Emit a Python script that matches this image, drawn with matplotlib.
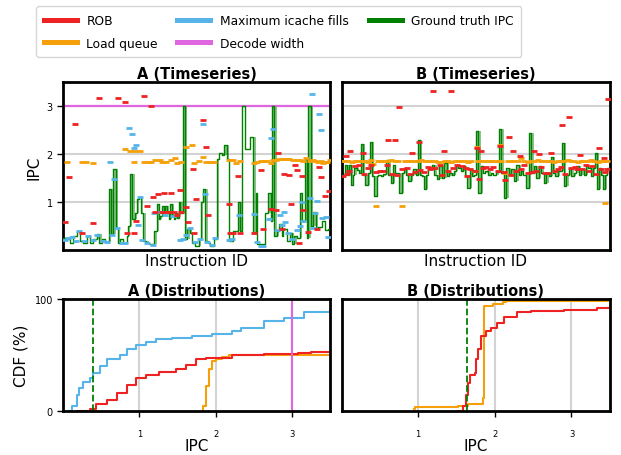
import numpy as np
import matplotlib
matplotlib.use("Agg")
import matplotlib.pyplot as plt
from matplotlib.lines import Line2D

# colours
C_ROB = "#ee2222"
C_LQ = "#f5a00a"
C_IC = "#56b4e9"
C_DEC = "#e066e0"
C_GT = "#008000"

# ---- A timeseries ----
gt_a_x = [0, 10, 20, 30, 40, 50, 60, 70, 80, 90, 100, 108, 115, 125, 137, 143, 150, 157, 165, 170,
          180, 190, 195, 200, 207, 215, 222, 228, 233, 240, 248, 256, 273, 281, 286, 291, 296, 301,
          306, 311, 316, 321, 326, 331, 336, 341, 346, 351, 358, 364, 371, 379, 386, 396, 406, 413,
          419, 426, 433, 441, 451, 461, 466, 476, 483, 491, 497, 509, 523, 529, 536, 545, 560, 571,
          578, 583, 606, 616, 623, 628, 634, 641, 649, 656, 661, 671, 681, 688, 693, 701, 711, 716,
          726, 731, 736, 743, 751, 759, 766, 776, 786, 796, 805]
gt_a_y = [0.26, 0.23, 0.16, 0.30, 0.40, 0.19, 0.16, 0.30, 0.16, 0.23, 0.33, 0.16, 0.23, 0.18, 1.27,
          0.33, 1.69, 0.46, 0.16, 0.23, 0.16, 0.30, 0.51, 1.60, 0.65, 0.78, 1.06, 1.12, 0.78, 0.19,
          0.16, 0.13, 0.40, 0.96, 0.65, 0.71, 0.92, 0.78, 0.92, 0.78, 0.65, 0.96, 0.74, 0.65, 0.78,
          0.68, 1.00, 0.78, 3.00, 0.23, 0.44, 0.37, 0.16, 0.09, 0.23, 1.00, 1.27, 0.19, 0.16, 0.09,
          0.23, 1.90, 2.02, 1.98, 2.20, 1.90, 0.19, 0.40, 1.00, 0.40, 3.00, 2.12, 2.37, 0.35, 1.20,
          0.13, 0.78, 1.20, 0.60, 3.00, 0.30, 0.40, 0.55, 0.30, 0.45, 0.20, 0.35, 0.13, 0.30, 0.25,
          1.20, 0.60, 1.90, 0.25, 3.00, 0.50, 0.80, 0.45, 0.48, 0.60, 0.42, 0.45]

rob_a_x = [4, 17, 36, 55, 88, 108, 165, 185, 192, 212, 218, 243, 250, 262, 270, 276, 283, 296, 303,
           309, 321, 323, 333, 341, 349, 354, 368, 373, 388, 393, 399, 418, 429, 433, 496, 499, 509,
           523, 529, 573, 593, 599, 624, 639, 644, 658, 664, 678, 683, 696, 703, 709, 716, 721, 734,
           761, 768, 774, 786, 797]
rob_a_y = [0.58, 1.53, 2.63, 0.36, 0.56, 3.17, 3.17, 3.10, 0.36, 0.35, 0.62, 3.21, 0.92, 3.00, 1.12,
           0.79, 1.18, 0.80, 1.19, 0.79, 0.80, 1.19, 0.80, 0.74, 1.25, 0.79, 0.90, 0.59, 1.70, 0.35,
           1.06, 2.71, 2.15, 0.74, 0.97, 0.35, 0.35, 1.55, 0.36, 0.37, 1.67, 0.44, 0.86, 0.84, 2.02,
           0.45, 1.60, 1.58, 0.97, 1.77, 1.67, 0.16, 1.55, 0.85, 0.39, 0.44, 1.74, 1.52, 1.13, 1.24]

ic_a_x = [5, 15, 25, 37, 47, 62, 75, 90, 102, 118, 130, 140, 145, 153, 160, 175, 185, 198, 205,
          212, 218, 223, 230, 235, 252, 268, 273, 289, 306, 329, 349, 358, 369, 379, 394, 411, 418,
          424, 431, 446, 456, 496, 506, 526, 573, 581, 593, 601, 619, 624, 631, 641, 651, 658, 664,
          666, 674, 688, 701, 711, 716, 721, 741, 748, 751, 756, 761, 768, 774, 776, 788, 796]
ic_a_y = [0.22, 0.26, 0.28, 0.19, 0.40, 0.19, 0.29, 0.22, 0.32, 0.19, 0.18, 1.85, 0.31, 1.49, 0.46,
          0.16, 0.16, 2.56, 2.43, 2.14, 2.19, 0.52, 1.12, 0.21, 0.16, 0.11, 0.78, 0.79, 0.73, 0.72,
          0.21, 0.24, 0.31, 0.46, 0.18, 0.23, 2.63, 1.18, 0.18, 0.11, 0.25, 0.21, 0.24, 0.74, 0.76,
          0.17, 0.09, 0.09, 0.65, 2.34, 2.52, 0.42, 0.73, 0.52, 0.80, 0.59, 0.35, 0.23, 0.42, 0.50,
          1.00, 0.60, 1.10, 3.25, 0.47, 0.78, 1.02, 2.85, 2.50, 0.68, 0.69, 0.27]

lq_a_x = [11, 56, 69, 89, 186, 201, 213, 216, 231, 243, 253, 263, 274, 289, 296, 309, 323, 336, 341,
          353, 368, 386, 393, 406, 419, 429, 441, 451, 496, 509, 519, 529, 573, 583, 593, 603, 613,
          624, 631, 639, 649, 656, 664, 672, 679, 689, 701, 711, 721, 729, 741, 749, 756, 766, 773,
          781, 788, 793, 801]
lq_a_y = [1.85, 1.85, 1.85, 1.83, 2.12, 2.07, 1.85, 2.07, 2.07, 1.85, 1.85, 1.85, 1.89, 1.89, 1.85,
          1.85, 1.89, 1.92, 1.83, 1.85, 2.16, 2.19, 1.83, 1.87, 1.94, 1.85, 1.85, 1.85, 1.89, 1.89,
          1.83, 1.87, 1.83, 1.85, 1.86, 1.86, 1.87, 1.83, 1.88, 1.88, 1.90, 1.91, 1.91, 1.90, 1.91,
          1.89, 1.88, 1.89, 1.87, 1.92, 1.86, 1.88, 1.87, 1.84, 1.86, 1.83, 1.85, 1.84, 1.89]

decode_a = 3.0

# ---- B timeseries ----
gt_b_x = [0, 11, 16, 21, 27, 33, 38, 46, 53, 59, 66, 71, 79, 86, 93, 99, 106, 111, 119, 126, 133,
          141, 148, 154, 161, 174, 181, 188, 195, 201, 209, 216, 223, 229, 235, 241, 249, 255, 261,
          271, 278, 286, 293, 301, 309, 316, 323, 331, 338, 345, 351, 358, 365, 371, 378, 385, 391,
          398, 404, 411, 418, 424, 433, 441, 449, 456, 466, 474, 481, 489, 496, 503, 511, 519, 526,
          533, 541, 546, 556, 564, 571, 578, 586, 593, 601, 608, 615, 623, 629, 636, 643, 651, 658,
          664, 669, 676, 683, 691, 699, 706, 713, 721, 728, 735, 741, 749, 756, 761, 767, 773, 781,
          787, 793, 799, 810]
gt_b_y = [1.58, 1.78, 1.58, 1.78, 1.36, 1.58, 1.72, 1.68, 1.62, 2.21, 1.58, 1.37, 1.61, 2.26, 1.55,
          1.13, 1.55, 1.58, 1.55, 1.60, 1.89, 1.58, 1.41, 1.78, 1.62, 1.19, 1.62, 1.72, 1.58, 1.44,
          1.58, 1.69, 1.58, 2.29, 1.58, 1.55, 1.27, 1.58, 1.69, 1.78, 1.58, 1.49, 1.75, 1.51, 1.83,
          1.55, 1.62, 1.58, 1.65, 1.78, 1.72, 1.65, 1.75, 1.55, 1.30, 1.69, 1.55, 1.58, 2.49, 1.20,
          1.75, 1.62, 1.65, 1.58, 1.62, 1.58, 1.63, 2.52, 1.62, 1.10, 1.72, 1.58, 1.69, 1.44, 1.78,
          1.58, 1.65, 1.58, 1.30, 2.44, 1.62, 1.75, 1.51, 1.75, 1.62, 1.40, 1.62, 1.55, 1.95, 1.62,
          1.55, 1.65, 1.65, 2.23, 1.35, 1.58, 1.72, 1.55, 1.62, 1.75, 1.58, 1.69, 1.58, 1.75, 1.72,
          1.55, 1.72, 2.02, 1.27, 1.72, 1.58, 1.27, 1.58, 1.72]

rob_b_x = [4, 13, 17, 21, 26, 39, 51, 66, 69, 79, 89, 103, 116, 126, 136, 141, 153, 161, 167, 174,
           183, 197, 206, 213, 221, 233, 236, 249, 259, 266, 269, 276, 281, 296, 303, 309, 321, 329,
           336, 346, 361, 373, 376, 386, 401, 406, 413, 419, 426, 436, 446, 456, 471, 476, 489, 491,
           503, 509, 516, 526, 536, 541, 549, 561, 573, 579, 586, 593, 599, 611, 621, 631, 641, 651,
           659, 664, 673, 683, 691, 703, 709, 716, 723, 736, 744, 753, 766, 774, 779, 788, 793, 799,
           803]
rob_b_y = [1.55, 1.96, 1.60, 1.65, 2.07, 1.75, 1.77, 2.02, 1.60, 1.72, 1.78, 1.64, 1.65, 1.65, 1.78,
           2.30, 1.60, 2.30, 1.58, 2.99, 1.70, 1.72, 1.60, 2.02, 1.63, 2.26, 1.68, 1.63, 1.74, 1.70,
           1.72, 3.32, 1.71, 1.78, 1.58, 2.07, 1.65, 3.32, 1.72, 1.78, 1.75, 1.72, 1.55, 1.70, 1.65,
           2.14, 1.49, 2.07, 1.72, 1.73, 1.70, 1.74, 1.65, 2.18, 1.63, 1.47, 2.37, 1.58, 2.07, 1.65,
           1.96, 1.70, 1.78, 1.62, 1.63, 2.07, 1.65, 2.00, 1.74, 1.62, 1.62, 2.02, 1.65, 1.70, 1.74,
           2.61, 1.60, 2.77, 1.72, 1.74, 1.69, 1.98, 1.70, 1.78, 1.65, 1.76, 1.60, 2.14, 1.69, 1.93,
           1.63, 1.70, 3.15]

lq_b_x = [0, 10, 20, 30, 40, 50, 60, 70, 80, 89, 95, 103, 110, 120, 130, 140, 150, 160, 170, 181,
          190, 200, 210, 220, 230, 240, 250, 260, 270, 280, 290, 300, 310, 320, 330, 340, 350, 360,
          370, 380, 390, 401, 406, 410, 420, 430, 440, 450, 460, 470, 476, 480, 491, 500, 510, 520,
          530, 540, 550, 560, 570, 580, 590, 600, 610, 620, 630, 640, 650, 660, 670, 680, 690, 700,
          710, 720, 730, 740, 750, 760, 770, 780, 790, 793, 800]
lq_b_y = [1.86, 1.86, 1.86, 1.85, 1.86, 1.86, 1.86, 1.86, 1.84, 1.89, 1.80, 0.92, 1.86, 1.87, 1.86,
          1.86, 1.88, 1.86, 1.86, 0.92, 1.86, 1.86, 1.86, 1.86, 1.86, 1.89, 1.86, 1.87, 1.86, 1.86,
          1.85, 1.85, 1.86, 1.86, 1.84, 1.86, 1.86, 1.86, 1.86, 1.85, 1.86, 1.65, 2.16, 1.86, 1.86,
          1.86, 1.86, 1.86, 1.86, 1.86, 2.19, 1.86, 1.62, 1.86, 1.86, 1.86, 1.86, 1.92, 1.86, 1.84,
          1.86, 1.86, 1.89, 1.86, 1.86, 1.86, 1.86, 1.84, 1.86, 1.86, 1.86, 1.88, 1.86, 1.86, 1.85,
          1.86, 1.86, 1.86, 1.89, 1.86, 1.84, 1.86, 1.86, 0.98, 1.86]

# ---- CDFs ----
cdf_a_ic_x = [0.07, 0.11, 0.18, 0.21, 0.26, 0.35, 0.39, 0.48, 0.57, 0.74, 0.83, 0.96, 1.09, 1.22,
              1.43, 1.69, 1.95, 2.21, 2.34, 2.64, 2.90, 3.16, 3.50]
cdf_a_ic_y = [0, 4, 14, 20, 26, 29, 34, 40, 46, 50, 55, 59, 62, 64, 65, 67, 69, 71, 74, 80, 83, 88, 90]
cdf_a_rob_x = [0.18, 0.35, 0.43, 0.57, 0.70, 0.83, 0.96, 1.09, 1.26, 1.48, 1.61, 1.74, 1.87, 2.00,
               2.21, 2.64, 3.08, 3.25, 3.50]
cdf_a_rob_y = [0, 1.5, 6, 10, 16, 23, 29, 32, 35, 37, 41, 46, 47, 47, 49.5, 50.5, 51.4, 52.6, 52.6]
cdf_a_lq_x = [1.82, 1.84, 1.87, 1.91, 1.95, 2.00, 2.08, 2.17, 3.50]
cdf_a_lq_y = [0, 4, 22, 37, 44.5, 46, 48, 49.5, 49.5]
gt_mean_a = 0.385

cdf_b_lq_x = [0.94, 0.96, 1.52, 1.65, 1.82, 1.84, 1.86, 1.98, 2.10, 2.14, 3.50]
cdf_b_lq_y = [1.5, 3.3, 3.9, 6, 6, 11, 94, 95.5, 97, 98, 98]
cdf_b_rob_x = [1.52, 1.59, 1.63, 1.65, 1.68, 1.74, 1.76, 1.78, 1.82, 1.88, 1.95, 2.03, 2.12, 2.29,
               2.47, 2.90, 3.33, 3.50]
cdf_b_rob_y = [0, 4.5, 14, 25, 32, 34, 46, 55, 67, 71, 74, 79, 83.5, 88, 89, 90.4, 91.6, 92.5]
gt_mean_b = 1.636

fig = plt.figure(figsize=(6.21, 4.56), dpi=100)
ax_ta = fig.add_axes([0.102, 0.449, 0.429, 0.368])
ax_tb = fig.add_axes([0.550, 0.449, 0.432, 0.368])
ax_ba = fig.add_axes([0.102, 0.097, 0.429, 0.245])
ax_bb = fig.add_axes([0.550, 0.097, 0.432, 0.245])

mk = dict(marker="_", linestyle="none", markersize=4, markeredgewidth=2, zorder=4)


def draw_ts(ax, gx, gy):
    # thin step line; short segments (spikes) get a light fill against the previous level
    n = min(len(gx) - 1, len(gy))
    xs = gx[:n + 1]
    ys = gy[:n] + [gy[n - 1]]
    ax.step(xs, ys, where="post", color=C_GT, lw=1.0, zorder=3)
    for i in range(1, n):
        x0, x1 = xs[i], xs[i + 1]
        if x1 - x0 <= 8:
            ax.fill_between([x0, x1], ys[i - 1], ys[i], color=C_GT, alpha=0.45, lw=0, zorder=2)


draw_ts(ax_ta, gt_a_x, gt_a_y)
ax_ta.axhline(decode_a, color=C_DEC, lw=1.6, zorder=2)
ax_ta.plot(lq_a_x, lq_a_y, color=C_LQ, **mk)
ax_ta.plot(ic_a_x, ic_a_y, color=C_IC, **mk)
ax_ta.plot(rob_a_x, rob_a_y, color=C_ROB, **mk)
ax_ta.set_xlim(0, 800)

draw_ts(ax_tb, gt_b_x, gt_b_y)
ax_tb.plot(lq_b_x, lq_b_y, color=C_LQ, **mk)
ax_tb.plot(rob_b_x, rob_b_y, color=C_ROB, **mk)
ax_tb.set_xlim(0, 807)

for ax, name in [(ax_ta, "A"), (ax_tb, "B")]:
    ax.set_ylim(0, 3.5)
    ax.set_yticks([1, 2, 3])
    ax.set_xticks([])
    ax.grid(axis="y", color="lightgray", lw=1.5, zorder=0)
    ax.set_axisbelow(True)
    ax.set_title(f"{name} (Timeseries)", fontsize=10.5, fontweight="bold", pad=3)
    ax.set_xlabel("Instruction ID", fontsize=11, labelpad=2)
    ax.tick_params(axis="y", labelsize=7, length=4, width=1)
ax_ta.set_ylabel("IPC", fontsize=11)
ax_tb.tick_params(axis="y", left=False, labelleft=False)

ax_ba.plot(cdf_a_ic_x, cdf_a_ic_y, color=C_IC, lw=1.5, drawstyle="steps-post")
ax_ba.plot(cdf_a_lq_x, cdf_a_lq_y, color=C_LQ, lw=1.5, drawstyle="steps-post")
ax_ba.plot(cdf_a_rob_x, cdf_a_rob_y, color=C_ROB, lw=1.5, drawstyle="steps-post")
ax_ba.axvline(gt_mean_a, color=C_GT, ls="--", lw=1.3)
ax_ba.axvline(decode_a, color=C_DEC, lw=1.5)

ax_bb.plot(cdf_b_lq_x, cdf_b_lq_y, color=C_LQ, lw=1.5, drawstyle="steps-post")
ax_bb.plot(cdf_b_rob_x, cdf_b_rob_y, color=C_ROB, lw=1.5, drawstyle="steps-post")
ax_bb.axvline(gt_mean_b, color=C_GT, ls="--", lw=1.3)

for ax, name in [(ax_ba, "A"), (ax_bb, "B")]:
    ax.set_xlim(0, 3.5)
    ax.set_ylim(0, 100)
    ax.set_xticks([1, 2, 3])
    ax.set_yticks([0, 100])
    ax.grid(axis="x", color="lightgray", lw=1.5, zorder=0)
    ax.set_axisbelow(True)
    ax.set_title(f"{name} (Distributions)", fontsize=10.5, fontweight="bold", pad=3)
    ax.set_xlabel("IPC", fontsize=11, labelpad=0)
    ax.tick_params(axis="x", labelsize=6, length=4, width=1, pad=9)
    ax.tick_params(axis="y", labelsize=7, length=4, width=1)
ax_ba.set_ylabel("CDF (%)", fontsize=11)
ax_bb.tick_params(axis="y", left=False, labelleft=False)

for ax in [ax_ta, ax_tb, ax_ba, ax_bb]:
    for sp in ax.spines.values():
        sp.set_linewidth(2)

handles = [
    Line2D([], [], color=C_ROB, lw=3.6),
    Line2D([], [], color=C_LQ, lw=3.6),
    Line2D([], [], color=C_IC, lw=3.6),
    Line2D([], [], color=C_DEC, lw=3.6),
    Line2D([], [], color=C_GT, lw=3.6),
]
labels = ["ROB", "Load queue", "Maximum icache fills", "Decode width", "Ground truth IPC"]
fig.legend(handles, labels, ncol=3, loc="upper center", bbox_to_anchor=(0.449, 0.997),
           fontsize=8.8, handlelength=2.7, columnspacing=1.6, labelspacing=0.8,
           borderpad=0.6, frameon=True, fancybox=True)

fig.savefig("out.png", dpi=100)
